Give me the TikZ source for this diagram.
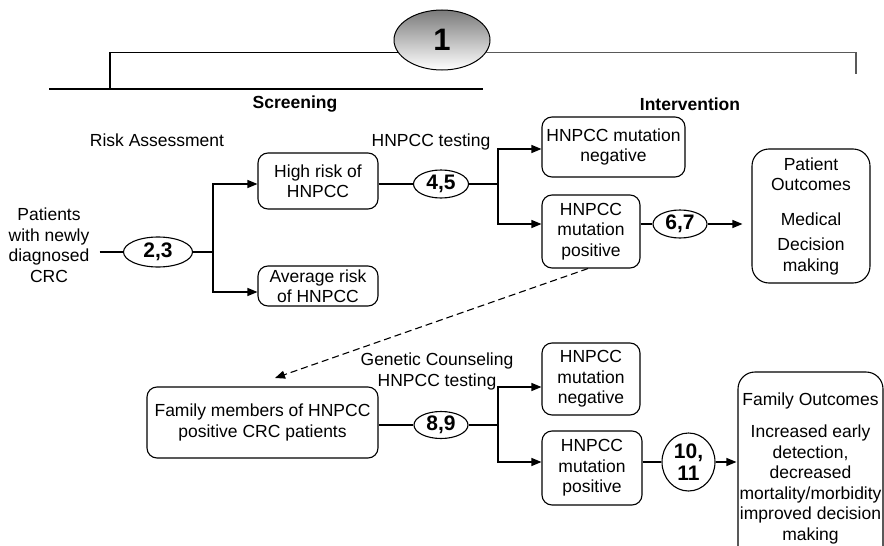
\documentclass[tikz,border=0pt]{standalone}
\usepackage{fontspec}
\setmainfont{Liberation Sans}
\usetikzlibrary{arrows.meta,shapes.geometric}

\begin{document}
\begin{tikzpicture}[x=1pt,y=-1pt,
  every node/.style={font=\fontsize{17.5}{20.5}\selectfont, inner sep=0pt},
  box/.style={draw, rounded corners=10pt, line width=1.1pt, align=center},
  bigbox/.style={box, rounded corners=17pt},
  num/.style={draw, ellipse, line width=1.1pt, align=center,
    font=\fontsize{21}{22}\selectfont\bfseries},
  lbl/.style={align=center},
  head/.style={font=\fontsize{17.5}{20}\selectfont\bfseries},
  link/.style={line width=1.1pt},
  arr/.style={line width=1.1pt, -{Triangle[length=10pt,width=8pt]}},
]
\useasboundingbox (0,0) rectangle (884,546);
\clip (0,0) rectangle (884,546);

% stage marker and bracket
\node[draw, ellipse, line width=1pt, top color=black!52, bottom color=white,
      minimum width=96pt, minimum height=60pt] (one) at (442,40)
      {\raisebox{-5pt}{\fontsize{31}{31}\selectfont\bfseries 1}};
\coordinate (lcorner) at (110,89);
\coordinate (rcorner) at (856,74);
\draw[link] (one.196) -| (lcorner);
\draw[link] (49,89) -- (483,89);
\draw[link, black!65] (one.344) -| (rcorner);

\node[head] (screen) at (295,104) {Screening};
\node[head] (interv) at (690,104) {Intervention};

% patient pathway
\node[lbl] (risk) at (157,140) {Risk Assessment};
\node[lbl] (pat) at (49,245) {Patients\\with newly\\diagnosed\\CRC};
\node[num, minimum width=69pt, minimum height=30pt] (e23) at (158,252) {2,3};
\node[box, minimum width=120pt, minimum height=56pt] (high) at (318,181) {High risk of\\HNPCC};
\node[box, minimum width=120pt, minimum height=40pt] (avg) at (318,286) {Average risk\\of HNPCC};
\coordinate (b1) at (213,252);
\draw[link] ([xshift=10pt]pat.east |- e23) -- (e23.west);
\draw[link] (e23.east) -- (b1);
\draw[arr] (b1) |- ([yshift=-3pt]high.west);
\draw[arr] (b1) |- ([yshift=-6pt]avg.west);

\node[lbl] (test1) at (431,142) {HNPCC testing};
\node[num, minimum width=55pt, minimum height=28pt] (e45) at (441,184) {4,5};
\node[box, minimum width=143pt, minimum height=60pt] (neg1) at (613.5,147) {HNPCC mutation\\negative};
\node[box, minimum width=98pt, minimum height=73pt] (pos1) at (591,231.5) {HNPCC\\mutation\\positive};
\coordinate (b2) at (498,184);
\draw[link] ([yshift=-3pt]high.east) -- (e45.west);
\draw[link] (e45.east) -- (b2);
\draw[arr] (b2) |- ([yshift=-2pt]neg1.west);
\node[num, minimum width=54pt, minimum height=28pt] (e67) at (680,224) {6,7};
\draw[arr] (b2) |- (pos1.west |- e67);
\draw[link] (pos1.east |- e67) -- (e67.west);
\node[bigbox, minimum width=118pt, minimum height=134pt] (pout) at (811,216)
  {Patient\\Outcomes\\[14pt]Medical\\[5pt]Decision\\making};
\draw[arr, shorten >=9pt] (e67.east) -- (pout.west |- e67);

% family pathway
\node[box, minimum width=231pt, minimum height=71pt] (fam) at (262.5,422.5)
  {Family members of HNPCC\\positive CRC patients};
\coordinate (famtip) at (275,378);
\draw[arr, dash pattern=on 7pt off 4pt] ([xshift=-3pt]pos1.south) -- (famtip);

\node[lbl, font=\fontsize{17.5}{21}\selectfont] (test2) at (437,371) {Genetic Counseling\\HNPCC testing};
\node[num, minimum width=54pt, minimum height=27pt] (e89) at (441,425) {8,9};
\node[box, minimum width=98pt, minimum height=72pt] (neg2) at (591,379) {HNPCC\\mutation\\negative};
\node[box, minimum width=100pt, minimum height=74pt] (pos2) at (592,468) {HNPCC\\mutation\\positive};
\coordinate (b3) at (498,425);
\draw[link] (fam.east |- e89) -- (e89.west);
\draw[link] (e89.east) -- (b3);
\draw[arr] (b3) |- ([yshift=-8pt]neg2.west);
\node[num, minimum width=53pt, minimum height=58pt] (e1011) at (688.5,462) {10,\\11};
\draw[arr] (b3) |- (pos2.west |- e1011);
\draw[link] (pos2.east |- e1011) -- (e1011.west);
\node[bigbox, minimum width=145pt, minimum height=192pt] (fout) at (810.5,468)
  {Family Outcomes\\[12pt]Increased early\\detection,\\decreased\\mortality/morbidity\\improved decision\\making};
\draw[arr, shorten >=1pt] (e1011.east) -- (fout.west |- e1011);
\end{tikzpicture}
\end{document}
